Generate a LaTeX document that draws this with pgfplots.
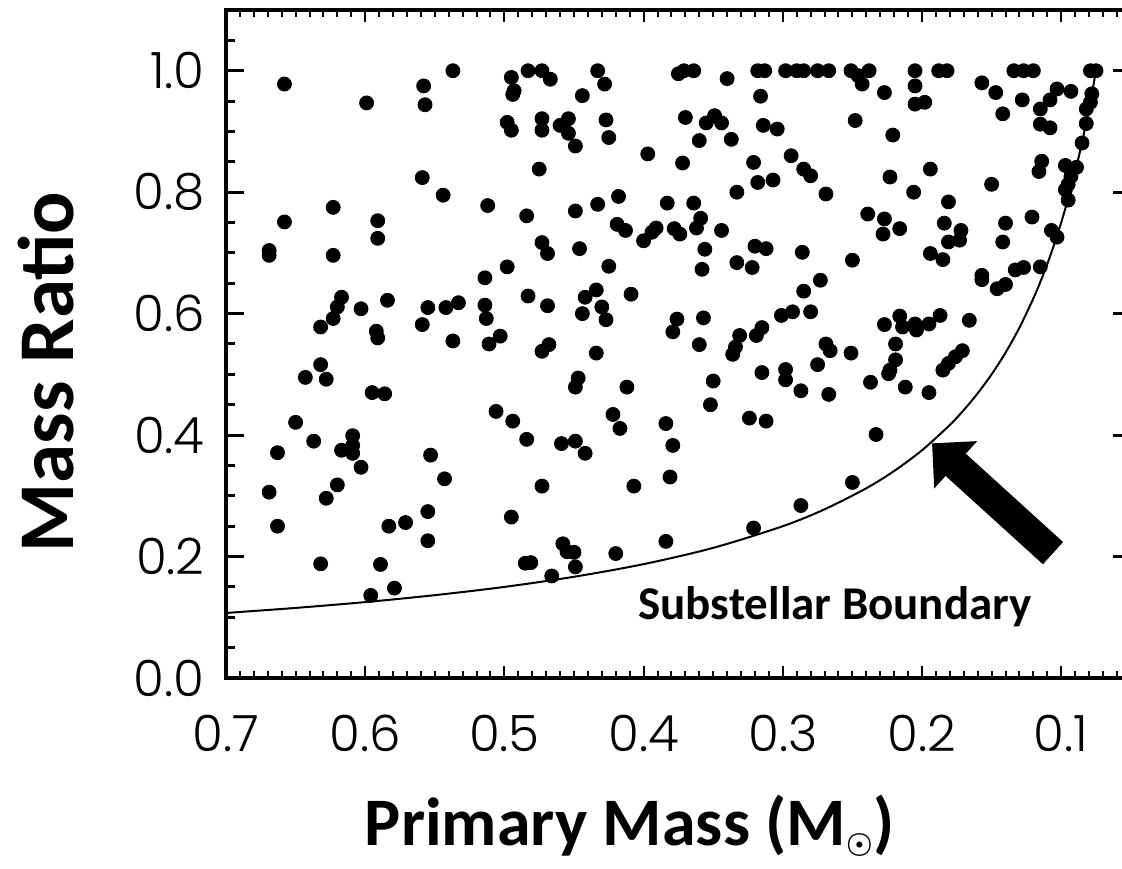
\documentclass[border=0pt]{standalone}
\usepackage{fontspec}
\usepackage{amsmath}
\usepackage{pgfplots}
\usepackage{pgfplotstable}
\pgfplotsset{compat=1.18}
\usetikzlibrary{arrows.meta}
\setmainfont{Carlito}
\newfontfamily\tickfont{Poppins Light}

\pgfplotstableread{
M q
0.658 0.978
0.599 0.947
0.558 0.975
0.557 0.944
0.537 1.000
0.495 0.989
0.493 0.967
0.494 0.961
0.498 0.915
0.495 0.902
0.559 0.824
0.544 0.795
0.512 0.778
0.623 0.775
0.658 0.751
0.591 0.753
0.591 0.724
0.669 0.704
0.669 0.696
0.623 0.696
0.498 0.677
0.514 0.659
0.617 0.627
0.620 0.611
0.623 0.592
0.632 0.578
0.603 0.608
0.584 0.622
0.555 0.610
0.542 0.610
0.533 0.618
0.514 0.614
0.513 0.592
0.559 0.582
0.592 0.571
0.591 0.560
0.537 0.555
0.511 0.550
0.503 0.563
0.632 0.516
0.643 0.495
0.628 0.492
0.595 0.470
0.586 0.468
0.650 0.421
0.637 0.390
0.609 0.399
0.609 0.383
0.617 0.375
0.609 0.370
0.663 0.371
0.603 0.347
0.620 0.318
0.628 0.296
0.669 0.306
0.663 0.250
0.583 0.250
0.571 0.256
0.555 0.274
0.555 0.226
0.553 0.367
0.543 0.328
0.506 0.439
0.494 0.423
0.495 0.265
0.632 0.188
0.589 0.187
0.579 0.148
0.596 0.136
0.483 1.000
0.473 1.000
0.467 0.986
0.433 1.000
0.428 0.978
0.444 0.959
0.375 0.995
0.371 1.000
0.364 1.000
0.340 0.987
0.318 1.000
0.313 1.000
0.298 1.000
0.290 1.000
0.285 1.000
0.316 0.958
0.473 0.921
0.473 0.902
0.460 0.910
0.454 0.921
0.454 0.897
0.449 0.876
0.427 0.919
0.425 0.890
0.370 0.923
0.355 0.914
0.349 0.926
0.344 0.914
0.360 0.885
0.337 0.887
0.314 0.910
0.304 0.904
0.397 0.863
0.372 0.848
0.475 0.838
0.321 0.849
0.294 0.860
0.285 0.838
0.280 0.827
0.318 0.816
0.307 0.820
0.333 0.800
0.484 0.761
0.449 0.769
0.433 0.780
0.418 0.793
0.383 0.782
0.364 0.782
0.419 0.747
0.413 0.737
0.400 0.720
0.394 0.734
0.391 0.741
0.378 0.740
0.374 0.731
0.362 0.741
0.359 0.757
0.344 0.737
0.473 0.717
0.469 0.699
0.446 0.707
0.356 0.706
0.320 0.711
0.312 0.707
0.286 0.701
0.425 0.678
0.358 0.673
0.333 0.684
0.322 0.676
0.483 0.629
0.469 0.613
0.442 0.627
0.434 0.639
0.430 0.611
0.444 0.600
0.427 0.590
0.409 0.632
0.376 0.591
0.357 0.593
0.379 0.570
0.301 0.597
0.293 0.603
0.280 0.603
0.285 0.637
0.331 0.564
0.319 0.564
0.315 0.577
0.468 0.549
0.473 0.538
0.434 0.535
0.360 0.549
0.334 0.545
0.336 0.533
0.447 0.494
0.449 0.479
0.412 0.479
0.350 0.489
0.352 0.450
0.315 0.503
0.298 0.508
0.298 0.491
0.287 0.473
0.422 0.434
0.417 0.411
0.384 0.419
0.379 0.383
0.324 0.428
0.312 0.423
0.484 0.393
0.459 0.386
0.449 0.390
0.442 0.370
0.473 0.316
0.407 0.316
0.381 0.331
0.287 0.284
0.321 0.247
0.384 0.225
0.420 0.205
0.458 0.221
0.455 0.208
0.450 0.207
0.449 0.183
0.466 0.168
0.485 0.189
0.481 0.190
0.275 1.000
0.267 1.000
0.251 1.000
0.246 0.992
0.243 0.978
0.238 1.000
0.227 0.964
0.205 1.000
0.205 0.975
0.205 0.945
0.198 0.948
0.188 1.000
0.182 1.000
0.157 0.980
0.147 0.964
0.134 1.000
0.127 1.000
0.120 1.000
0.128 0.952
0.142 0.929
0.248 0.918
0.221 0.894
0.115 0.937
0.108 0.952
0.103 0.970
0.093 0.966
0.115 0.912
0.108 0.906
0.079 1.000
0.075 1.000
0.078 0.962
0.079 0.948
0.082 0.937
0.082 0.913
0.085 0.881
0.269 0.797
0.223 0.825
0.194 0.838
0.206 0.800
0.181 0.784
0.150 0.813
0.114 0.851
0.116 0.834
0.097 0.844
0.089 0.841
0.093 0.826
0.095 0.813
0.097 0.804
0.095 0.787
0.239 0.764
0.227 0.756
0.228 0.731
0.216 0.740
0.184 0.749
0.172 0.737
0.173 0.721
0.181 0.718
0.194 0.699
0.185 0.689
0.140 0.749
0.142 0.718
0.121 0.759
0.107 0.737
0.103 0.726
0.250 0.688
0.273 0.655
0.157 0.663
0.157 0.656
0.146 0.641
0.140 0.648
0.133 0.672
0.127 0.676
0.115 0.677
0.227 0.582
0.216 0.596
0.214 0.578
0.205 0.583
0.204 0.573
0.195 0.583
0.187 0.597
0.166 0.589
0.269 0.550
0.266 0.539
0.275 0.516
0.251 0.535
0.219 0.550
0.219 0.524
0.223 0.507
0.224 0.501
0.237 0.487
0.212 0.479
0.195 0.470
0.267 0.467
0.171 0.539
0.176 0.529
0.181 0.518
0.185 0.507
0.233 0.401
0.250 0.322
}\stars

\pgfplotstableread{
M q
0.70 0.1071
0.65 0.1154
0.60 0.1250
0.55 0.1364
0.50 0.1500
0.45 0.1667
0.40 0.1875
0.35 0.2143
0.30 0.2500
0.27 0.2778
0.24 0.3125
0.22 0.3409
0.20 0.3750
0.18 0.4167
0.17 0.4412
0.16 0.4688
0.15 0.5000
0.14 0.5357
0.13 0.5769
0.12 0.6250
0.115 0.6522
0.11 0.6818
0.105 0.7143
0.10 0.7500
0.095 0.7895
0.09 0.8333
0.085 0.8824
0.08 0.9375
0.0775 0.9677
0.075 1.0000
}\boundary

\pgfplotsset{
  base/.style={
    at={(113pt,95pt)}, anchor=south west,
    scale only axis, width=452.4pt, height=334pt,
    xmin=0.05, xmax=0.7, ymin=0, ymax=1.1, x dir=reverse,
    axis line style={line width=1.8pt, black},
    tick align=inside,
    /pgf/number format/assume math mode=true,
  }
}

\begin{document}
\begin{tikzpicture}
% axis carrying the x ticks
\begin{axis}[base,
  xtick={0.1,0.2,0.3,0.4,0.5,0.6,0.7},
  xticklabels={0.1,0.2,0.3,0.4,0.5,0.6,0.7},
  minor xtick={0.06,0.07,0.08,0.09,0.11,0.12,0.13,0.14,0.15,0.16,0.17,0.18,0.19,0.21,0.22,0.23,0.24,0.25,0.26,0.27,0.28,0.29,0.31,0.32,0.33,0.34,0.35,0.36,0.37,0.38,0.39,0.41,0.42,0.43,0.44,0.45,0.46,0.47,0.48,0.49,0.51,0.52,0.53,0.54,0.55,0.56,0.57,0.58,0.59,0.61,0.62,0.63,0.64,0.65,0.66,0.67,0.68,0.69},
  ytick=\empty,
  major tick length=6pt, minor tick length=3.5pt,
  tick style={line width=1pt, black},
  xticklabel style={font=\tickfont\fontsize{25}{25}\selectfont, anchor=north, inner sep=0pt},
  xticklabel shift=18.5pt,
]
\end{axis}
% axis carrying the y ticks and the data
\begin{axis}[base,
  xtick=\empty,
  ytick={0,0.2,0.4,0.6,0.8,1.0},
  yticklabels={0.0,0.2,0.4,0.6,0.8,1.0},
  minor ytick={0.05,0.1,0.15,0.25,0.3,0.35,0.45,0.5,0.55,0.65,0.7,0.75,0.85,0.9,0.95,1.05},
  major tick length=9pt, minor tick length=4.5pt,
  tick style={line width=1.5pt, black},
  yticklabel style={font=\tickfont\fontsize{25}{25}\selectfont, anchor=east, inner sep=0pt},
  yticklabel shift=10.5pt,
  clip=false,
]
\addplot[only marks, mark=*, mark size=3.5pt, black] table[x=M, y=q] {\stars};
\addplot[black, line width=1pt, smooth, no marks] table[x=M, y=q] {\boundary};
\draw[line width=15pt, -{Triangle[length=16pt, width=31pt]}] (axis cs:0.1059,0.2056) -- (axis cs:0.1928,0.3865);
\node[font=\bfseries\fontsize{23.5}{23.5}\selectfont, anchor=base] at (axis cs:0.2625,0.097) {Substellar Boundary};
\end{axis}
\node[rotate=90, font=\bfseries\fontsize{39.5}{39.5}\selectfont] at (23pt,248pt) {Mass Ratio};
\node[font=\bfseries\fontsize{34}{34}\selectfont, anchor=base] at (315pt,11.5pt) {Primary Mass (M\textsubscript{\scalebox{0.6}{$\boldsymbol{\odot}$}})};
\pgfresetboundingbox
\path[use as bounding box] (0,0) rectangle (561pt,434pt);
\end{tikzpicture}
\end{document}
